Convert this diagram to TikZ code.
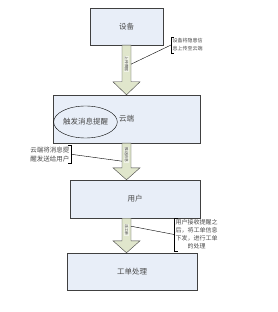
\documentclass[tikz,border=0pt]{standalone}
\usepackage{fontspec}
\setmainfont{Noto Sans CJK SC}
\usetikzlibrary{calc,shapes.geometric}
\definecolor{BoxFill}{HTML}{E8EEF8}
\definecolor{BoxLine}{HTML}{404040}
\definecolor{ArrowFill}{HTML}{E0E6CC}
\definecolor{TextGray}{HTML}{4A4A4A}

\begin{document}
\begin{tikzpicture}[x=1pt,y=-1pt,
  stage/.style={draw=BoxLine,fill=BoxFill,thin,inner sep=0pt,text=TextGray,font=\fontsize{7.5}{9}\selectfont},
  note/.style={inner xsep=1.5pt,inner ysep=1.5pt,align=left,text=TextGray},
  bigarrow/.style={draw=BoxLine,fill=ArrowFill,thin},
  tag/.style={rotate=-90,inner sep=0.5pt,fill=ArrowFill!50!white,text=TextGray,font=\fontsize{3.8}{4}\selectfont},
  lead/.style={draw=black,thin}]
  \useasboundingbox (0,0) rectangle (277,312);

  % stages
  \node[stage,minimum width=73pt,minimum height=37pt] (dev) at (126.5,26.5) {设备};
  \node[stage,minimum width=147pt,minimum height=48pt] (cloud) at (126.5,119) {云端};
  \node[ellipse,draw=black,thin,inner sep=0pt,minimum width=63pt,minimum height=32pt,text=TextGray,font=\fontsize{7.5}{9}\selectfont] (alert) at (85.5,122) {触发消息提醒};
  \node[stage,minimum width=130pt,minimum height=38pt] (user) at (135,199) {用户};
  \node[stage,minimum width=130pt,minimum height=37pt] (order) at (132,271.5) {工单处理};

  % flow arrows
  \draw[bigarrow] let \p1=(dev.south), \p2=(cloud.north) in
    (\x1-4.5pt,\y1) -- (\x1-4.5pt,\y2+13pt) -- (\x1-13.5pt,\y2+13pt) -- (\x2,\y2)
    -- (\x1+13.5pt,\y2+13pt) -- (\x1+4.5pt,\y2+13pt) -- (\x1+4.5pt,\y1) -- cycle;
  \draw[bigarrow] let \p1=(cloud.south), \p2=(dev.south |- user.north) in
    (\x1-4.5pt,\y1) -- (\x1-4.5pt,\y2+12pt) -- (\x1-13.5pt,\y2+12pt) -- (\x2,\y2)
    -- (\x1+13.5pt,\y2+12pt) -- (\x1+4.5pt,\y2+12pt) -- (\x1+4.5pt,\y1) -- cycle;
  \draw[bigarrow] let \p1=(dev.south |- user.south), \p2=(dev.south |- order.north) in
    (\x1-4.5pt,\y1) -- (\x1-4.5pt,\y2+12pt) -- (\x1-13.5pt,\y2+12pt) -- (\x2,\y2)
    -- (\x1+13.5pt,\y2+12pt) -- (\x1+4.5pt,\y2+12pt) -- (\x1+4.5pt,\y1) -- cycle;

  \node[tag] (t1) at ($(dev.south)!0.38!(cloud.north)$) {上传数据};
  \node[tag] (t2) at ($(cloud.south)!0.32!(dev.south |- user.north)$) {推送消息};
  \node[tag] (t3) at ($(dev.south |- user.south)!0.34!(dev.south |- order.north)$) {派工单};

  % callouts
  \node[note,anchor=north west,font=\fontsize{5}{8}\selectfont] (n1) at (171,37) {设备将隐患信\\息上传至云端};
  \draw[thin] ($(n1.north west)+(3,0)$) -- (n1.north west) -- (n1.south west) -- ++(3,0);
  \coordinate (p1) at ($(dev.south)+(4.5,19)$);
  \draw[lead] (n1.west) -- (p1);

  \node[note,anchor=north east,font=\fontsize{6.5}{9}\selectfont] (n2) at (71,145) {云端将消息提\\醒发送给用户};
  \draw[thin] ($(n2.north east)+(-3,0)$) -- (n2.north east) -- (n2.south east) -- ++(-3,0);
  \coordinate (p2) at ($(cloud.south)+(-4.5,18)$);
  \draw[lead] (n2.east) -- (p2);

  \node[note,anchor=north west,font=\fontsize{6}{8}\selectfont] (n3) at (174,218) {用户接收提醒之\\后，将工单信息\\下发，进行工单\\\hspace*{2em}的处理};
  \draw[thin] ($(n3.north west)+(4,0)$) -- (n3.north west) -- (n3.south west) -- ++(4,0);
  \coordinate (p3) at ($(dev.south |- user.south)+(4.5,8)$);
  \draw[lead] (n3.west) -- (p3);
\end{tikzpicture}
\end{document}
